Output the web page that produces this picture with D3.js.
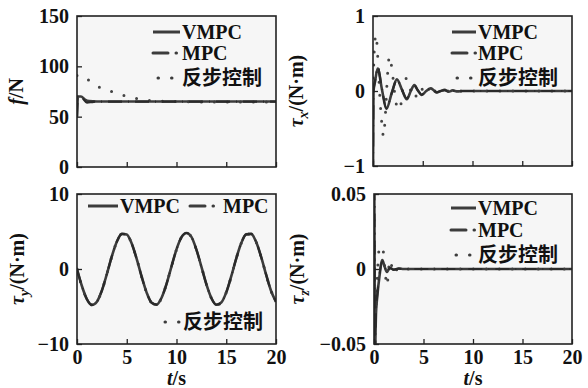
<!DOCTYPE html>
<html>
<head>
<meta charset="utf-8">
<script src="https://cdn.jsdelivr.net/npm/d3@7"></script>
<style>
  body { margin: 0; background: #fff; }
  svg text { font-family: "Liberation Serif", "Times New Roman", serif; font-weight: bold; fill: #111; }
  .cjk { font-family: "Noto Sans CJK SC", sans-serif; font-weight: 700; }
</style>
</head>
<body>
<div id="chart"></div>
<script>
// ---- data ----
var timeTicks = [0, 5, 10, 15, 20];
var legendNames = ["VMPC", "MPC", "反步控制"];

// f / N
var fTimeV = [0, 0.1, 0.4, 0.8, 1.2, 2, 5, 10, 15, 20];
var fVmpc  = [50, 70, 70, 67, 65.5, 65, 65, 65, 65, 65];
var fTimeM = [0, 0.1, 0.5, 1.0, 1.5, 2, 10, 20];
var fMpc   = [50, 71, 69, 64, 64.5, 65, 65, 65];
var fTimeB = [0, 0.45, 1.2, 1.9, 2.8, 3.8, 4.9, 6, 7, 8, 10, 14, 20];
var fBack  = [91, 91, 86, 81, 77, 74, 70.5, 68, 66.5, 65.5, 65, 64.5, 64.5];
var fTicks = [0, 50, 100, 150];

// tau_x
var txTime = [0, 0.05, 0.2, 0.47, 0.9, 1.34, 1.9, 2.4, 2.9, 3.4, 3.8, 4.15, 4.5, 4.9, 5.35, 5.8, 6.1, 6.4, 6.8, 7.2, 7.6, 8.0, 8.5, 9, 10, 20];
var txVmpc = [-1.1, 0, 0.12, 0.30, 0.02, -0.24, -0.02, 0.155, 0.02, -0.11, 0, 0.08, 0.01, -0.053, 0, 0.035, 0.01, -0.02, 0, 0.015, -0.01, 0.008, -0.005, 0, 0, 0];
var txMpc  = [-1.1, 0, 0.13, 0.31, 0.03, -0.23, -0.02, 0.15, 0.02, -0.10, 0, 0.075, 0.01, -0.05, 0, 0.03, 0.01, -0.018, 0, 0.012, -0.008, 0.006, -0.004, 0, 0, 0];
var txTimeB = [0, 0.15, 0.3, 0.5, 0.7, 0.9, 1.05, 1.25, 1.45, 1.65, 1.9, 2.2, 2.5, 2.8, 3.1, 3.4, 3.8, 4.2, 4.6, 5, 6, 20];
var txBack  = [0, 0.6, 0.75, 0.4, -0.1, -0.45, -0.6, -0.3, 0.2, 0.46, 0.3, -0.05, -0.25, -0.18, 0.12, 0.17, 0, -0.1, 0.05, 0.02, 0, 0];
var txTicks = [-1, 0, 1];

// tau_y
var tyTime = [0, 0.5, 1, 1.5, 2, 2.5, 3, 3.5, 4, 4.5, 5, 5.5, 6, 6.5, 7, 7.5, 8, 8.5, 9, 9.5, 10,
              10.5, 11, 11.5, 12, 12.5, 13, 13.5, 14, 14.5, 15, 15.5, 16, 16.5, 17, 17.5, 18, 18.5, 19, 19.5, 20];
var tyVmpc = [0, -2.3, -4.04, -4.79, -4.36, -2.87, -0.68, 1.68, 3.63, 4.69, 4.6, 3.39, 1.34, -1.03, -3.15, -4.49, -4.75, -3.83, -1.98, 0.36, 2.61,
              4.24, 4.8, 4.28, 2.58, 0.32, -2.02, -3.86, -4.76, -4.47, -3.12, -0.99, 1.38, 3.42, 4.62, 4.68, 3.62, 1.64, -0.72, -2.9, -4.38];
var tyMpc  = tyVmpc;
var tyBack = tyVmpc;
var tyTicks = [-10, 0, 10];

// tau_z
var tzTime = [0, 0.03, 0.1, 0.2, 0.33, 0.55, 0.84, 1.05, 1.3, 1.6, 2, 2.5, 3, 20];
var tzVmpc = [0.055, 0.05, -0.055, -0.03, -0.0185, -0.005, 0.006, 0.002, -0.002, 0.0008, -0.0005, 0.0003, 0, 0];
var tzMpc  = [0.055, 0.05, -0.055, -0.028, -0.017, -0.004, 0.005, 0.002, -0.002, 0.0006, -0.0004, 0.0002, 0, 0];
var tzTimeB = [0, 0.05, 0.15, 0.3, 0.5, 0.85, 1.1, 1.3, 1.6, 2, 2.5, 3, 20];
var tzBack  = [0.05, 0, -0.03, -0.01, 0.012, 0.015, 0, -0.011, 0.006, -0.003, 0.001, 0, 0];
var tzTicks = [-0.05, 0, 0.05];

var W = 588, H = 388;
var lineColor = "#3c3c3c";

var svg = d3.select("#chart").append("svg")
  .attr("width", W).attr("height", H);

function zip(ts, vs) {
  return ts.map(function(t, i) { return [t, vs[i]]; });
}

function drawPanel(o) {
  var g = svg.append("g").attr("transform", "translate(" + o.left + "," + o.top + ")");
  var x = d3.scaleLinear().domain([0, 20]).range([0, o.w]);
  var y = d3.scaleLinear().domain(o.domain).range([o.h, 0]);

  g.append("rect").attr("width", o.w).attr("height", o.h).attr("fill", "#f6f6f6");

  var clipId = "clip" + o.id;
  g.append("clipPath").attr("id", clipId)
    .append("rect").attr("width", o.w).attr("height", o.h);

  var line = d3.line()
    .x(function(d) { return x(d[0]); })
    .y(function(d) { return y(d[1]); })
    .curve(d3.curveMonotoneX);

  var plot = g.append("g").attr("clip-path", "url(#" + clipId + ")");
  // backstepping (dotted)
  plot.append("path").datum(zip(o.tb, o.back))
    .attr("d", line).attr("fill", "none")
    .attr("stroke", "#444").attr("stroke-width", 3)
    .attr("stroke-linecap", "round").attr("stroke-dasharray", "0 13");
  // VMPC solid
  plot.append("path").datum(zip(o.tv, o.vmpc))
    .attr("d", line).attr("fill", "none")
    .attr("stroke", lineColor).attr("stroke-width", 2.6);
  // MPC dash-dot
  plot.append("path").datum(zip(o.tm, o.mpc))
    .attr("d", line).attr("fill", "none")
    .attr("stroke", "#2a2a2a").attr("stroke-width", 2.2)
    .attr("stroke-dasharray", "14 6 1 6");

  // axes, ticks pointing inward
  var yAxis = d3.axisLeft(y).tickValues(o.ticks).tickSizeInner(-5).tickSizeOuter(0)
    .tickPadding(8).tickFormat(o.fmt || d3.format("d"));
  var ya = g.append("g").call(yAxis);
  var xAxis = d3.axisBottom(x).tickValues(timeTicks).tickSizeInner(-5).tickSizeOuter(0)
    .tickPadding(6).tickFormat(o.xlabels ? d3.format("d") : "");
  var xa = g.append("g").attr("transform", "translate(0," + o.h + ")").call(xAxis);
  [ya, xa].forEach(function(a) {
    a.select(".domain").remove();
    a.selectAll("line").attr("stroke", "#222").attr("stroke-width", 1.3);
    a.selectAll("text").attr("font-size", 20)
      .attr("font-family", "Liberation Serif").attr("font-weight", "bold").attr("fill", "#111");
  });

  g.append("rect").attr("width", o.w).attr("height", o.h)
    .attr("fill", "none").attr("stroke", "#222").attr("stroke-width", 1.6);

  // y label
  var yl = g.append("text")
    .attr("transform", "translate(" + o.ylx + "," + (o.h / 2) + ") rotate(-90)")
    .attr("text-anchor", "middle").attr("font-size", 20);
  o.ylabel(yl);

  if (o.xlabels) {
    var xl = g.append("text").attr("x", o.w / 2).attr("y", o.h + 41)
      .attr("text-anchor", "middle").attr("font-size", 20);
    xl.append("tspan").attr("font-style", "italic").text("t");
    xl.append("tspan").text("/s");
  }

  // legend
  o.legend.forEach(function(L, i) {
    var ll = g.append("line")
      .attr("x1", L.x1).attr("x2", L.x2).attr("y1", L.y).attr("y2", L.y)
      .attr("stroke", lineColor).attr("stroke-linecap", i === 0 ? "butt" : "round");
    if (i === 0) ll.attr("stroke-width", 3);
    if (i === 1) ll.attr("stroke-width", 3).attr("stroke-dasharray", "15 8 0.5 30");
    if (i === 2) ll.attr("stroke-width", 3).attr("stroke-dasharray", "0.5 13");
    g.append("text").attr("x", L.tx).attr("y", L.y).attr("dy", "0.36em")
      .attr("class", i === 2 ? "cjk" : null)
      .attr("font-size", 20)
      .text(legendNames[i]);
  });
}

function tauLabel(sub) {
  return function(t) {
    t.append("tspan").attr("font-style", "italic").text("τ");
    t.append("tspan").attr("font-style", "italic").attr("font-size", 14).attr("dy", 5).text(sub);
    t.append("tspan").attr("dy", -5).text("/(N·m)");
  };
}

drawPanel({
  id: 1, left: 77, top: 16, w: 199, h: 151, domain: [0, 150], ticks: fTicks,
  tv: fTimeV, vmpc: fVmpc, tm: fTimeM, mpc: fMpc, tb: fTimeB, back: fBack,
  ylx: -54, xlabels: false,
  ylabel: function(t) {
    t.append("tspan").attr("font-style", "italic").text("f");
    t.append("tspan").text("/N");
  },
  legend: [
    { x1: 76, x2: 103, y: 16, tx: 105 },
    { x1: 76, x2: 103, y: 37, tx: 105 },
    { x1: 81, x2: 96, y: 62, tx: 105 }
  ]
});

drawPanel({
  id: 2, left: 373, top: 16, w: 199, h: 150, domain: [-1, 1], ticks: txTicks,
  tv: txTime, vmpc: txVmpc, tm: txTime, mpc: txMpc, tb: txTimeB, back: txBack,
  ylx: -70, xlabels: false, ylabel: tauLabel("x"),
  legend: [
    { x1: 79, x2: 103, y: 16, tx: 105 },
    { x1: 79, x2: 103, y: 37, tx: 105 },
    { x1: 84, x2: 98, y: 62, tx: 105 }
  ]
});

drawPanel({
  id: 3, left: 77, top: 194, w: 199, h: 150, domain: [-10, 10], ticks: tyTicks,
  tv: tyTime, vmpc: tyVmpc, tm: tyTime, mpc: tyMpc, tb: tyTime, back: tyBack,
  ylx: -53, xlabels: true, ylabel: tauLabel("y"),
  legend: [
    { x1: 11, x2: 41, y: 12, tx: 43 },
    { x1: 113, x2: 141, y: 12, tx: 146 },
    { x1: 88, x2: 102, y: 128, tx: 106 }
  ]
});

drawPanel({
  id: 4, left: 374, top: 194, w: 198, h: 150, domain: [-0.05, 0.05], ticks: tzTicks,
  tv: tzTime, vmpc: tzVmpc, tm: tzTime, mpc: tzMpc, tb: tzTimeB, back: tzBack,
  ylx: -70, xlabels: true, ylabel: tauLabel("z"),
  fmt: function(d) { return d === 0 ? "0" : d3.format(".2f")(d); },
  legend: [
    { x1: 77, x2: 102, y: 14, tx: 104 },
    { x1: 77, x2: 102, y: 36, tx: 104 },
    { x1: 82, x2: 96, y: 61, tx: 104 }
  ]
});
</script>
</body>
</html>
